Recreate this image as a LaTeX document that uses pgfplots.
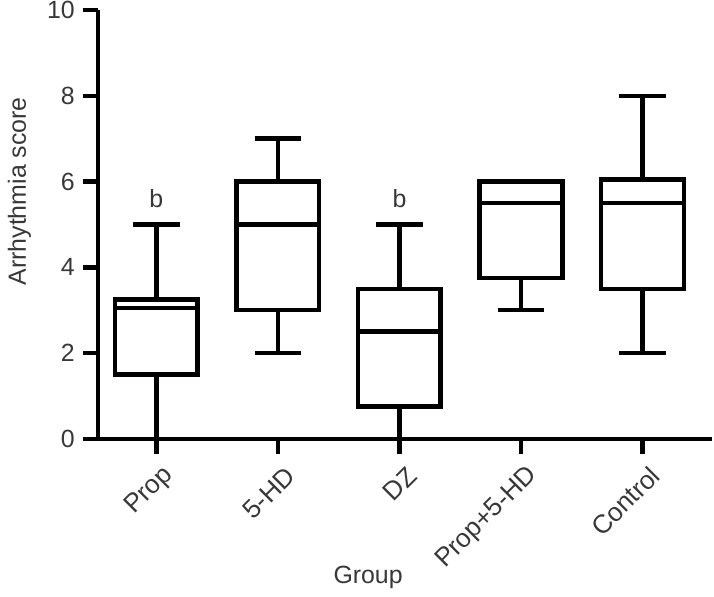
\documentclass[border=0pt]{standalone}
\usepackage{fontspec}
\setmainfont{Liberation Sans}
\usepackage{pgfplots}
\pgfplotsset{compat=1.18}
\usepgfplotslibrary{statistics}
\definecolor{txt}{gray}{0.22}
\begin{document}
\begin{tikzpicture}
\begin{axis}[
  scale only axis,
  width=259pt, height=181pt,
  xmin=-0.48, xmax=4.57,
  ymin=0, ymax=10,
  axis lines=left,
  axis line style={-, line width=1.9pt},
  every tick/.style={black, line width=1.9pt},
  tick align=outside,
  major tick length=6.3pt,
  xtick={0,1,2,3,4},
  xticklabels={Prop,5-HD,DZ,Prop+5-HD,Control},
  ytick={0,2,4,6,8,10},
  minor tick num=0,
  /pgf/number format/assume math mode=true,
  tick label style={font=\fontsize{10.5}{12}\selectfont, text=txt},
  yticklabel style={inner ysep=0.5pt},
  xticklabel style={font=\fontsize{11}{12}\selectfont, rotate=45, anchor=east, yshift=-9pt, xshift=2pt},
  xlabel={Group},
  ylabel={Arrhythmia score},
  label style={font=\fontsize{10.5}{12}\selectfont, text=txt},
  xlabel style={at={(axis description cs:0.44,0)}, anchor=north, yshift=-50pt},
  ylabel style={at={(axis description cs:-0.128,0.577)}, anchor=center},
  clip=false,
  boxplot/draw direction=y,
  bx/.style={black, line width=1.9pt, fill=white, solid, mark=none, boxplot/box extend=0.68, boxplot/whisker extend=0.385},
]
\addplot[bx, boxplot prepared={lower whisker=0, lower quartile=1.5, median=3.05, upper quartile=3.25, upper whisker=5, draw position=0}] coordinates {};
\addplot[bx, boxplot prepared={lower whisker=2, lower quartile=3, median=5, upper quartile=6, upper whisker=7, draw position=1}] coordinates {};
\addplot[bx, boxplot prepared={lower whisker=0, lower quartile=0.75, median=2.5, upper quartile=3.5, upper whisker=5, draw position=2}] coordinates {};
\addplot[bx, boxplot prepared={lower whisker=3, lower quartile=3.75, median=5.5, upper quartile=6, upper whisker=6, draw position=3}] coordinates {};
\addplot[bx, boxplot prepared={lower whisker=2, lower quartile=3.5, median=5.5, upper quartile=6.05, upper whisker=8, draw position=4}] coordinates {};
\node[font=\fontsize{10.5}{12}\selectfont, text=txt] at (axis cs:0,5.6) {b};
\node[font=\fontsize{10.5}{12}\selectfont, text=txt] at (axis cs:2,5.6) {b};
\end{axis}
\end{tikzpicture}
\end{document}
